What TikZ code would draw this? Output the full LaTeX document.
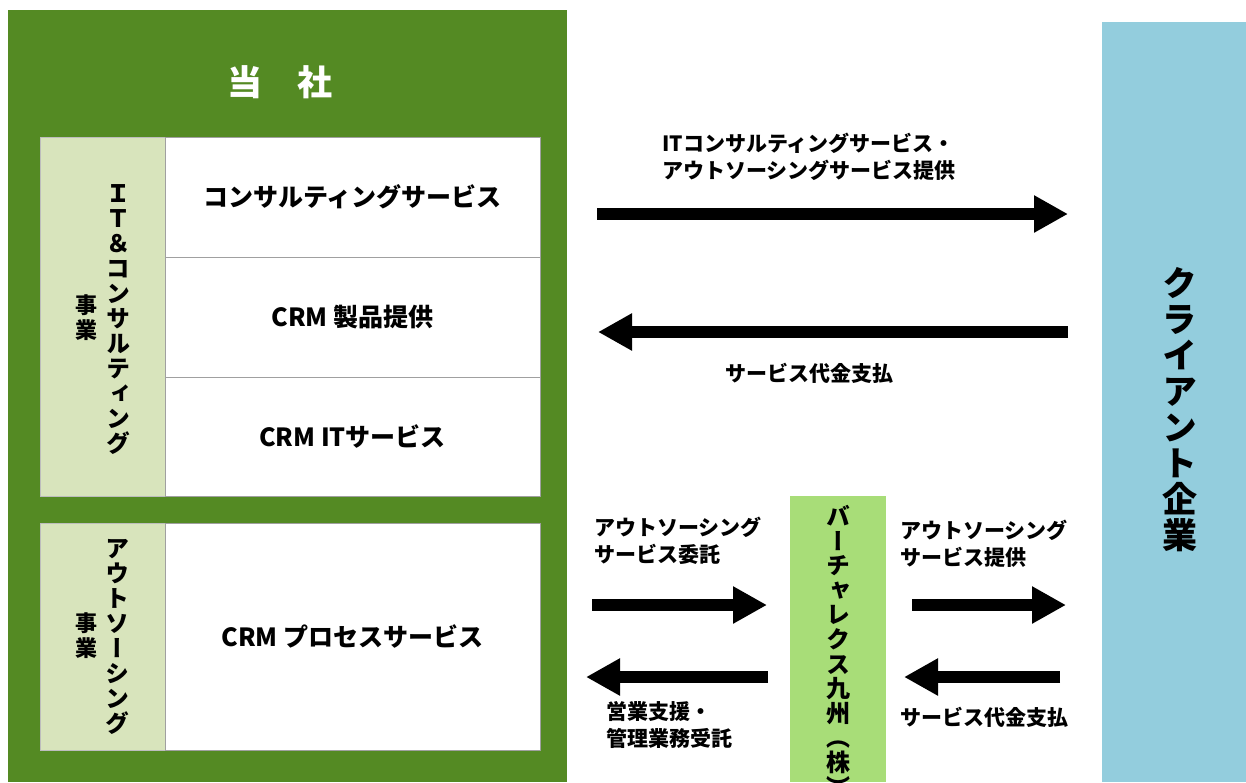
\documentclass[tikz,border=0pt]{standalone}
\usepackage{fontspec}
\usepackage{graphicx}
\usetikzlibrary{arrows.meta}
\setmainfont{Noto Sans CJK JP}
\newfontfamily\vjp{Noto Sans CJK JP}[RawFeature=+vert]
\definecolor{compgreen}{RGB}{84,138,35}
\definecolor{labgreen}{RGB}{216,228,188}
\definecolor{cellgray}{RGB}{160,160,160}
\definecolor{clientblue}{RGB}{147,205,221}
\definecolor{vxgreen}{RGB}{168,221,120}
\begin{document}
\begin{tikzpicture}[x=1pt,y=-1pt,
  box/.style={anchor=north west, inner sep=0pt, outer sep=0pt},
  cell/.style={box, draw=cellgray, line width=1pt, fill=white, font=\fontsize{25}{28}\selectfont\bfseries},
  lab/.style={box, draw=cellgray!70, line width=1pt, fill=labgreen},
  vt/.style={align=center, inner sep=0pt, font=\vjp\bfseries\fontsize{24}{25}\selectfont},
  flow/.style={line width=12.5pt, -{Triangle[length=34pt,width=35pt]}},
  note/.style={align=left, inner sep=0pt, anchor=west, font=\fontsize{21}{27.5}\selectfont\bfseries}
]
\useasboundingbox[fill=white] (0,0) rectangle (1246,782);

% company block
\node[box, fill=compgreen, minimum width=559pt, minimum height=772pt] (co) at (8,10) {};
\node[font=\fontsize{35}{40}\selectfont\bfseries, text=white] (title) at (280,82) {当　社};

% IT & consulting
\node[lab, minimum width=125pt, minimum height=359pt] (lab1) at (40,137) {};
\node[cell, minimum width=375pt, minimum height=120pt] (c1) at (165,137) {コンサルティングサービス};
\node[cell, minimum width=375pt, minimum height=120pt] (c2) at (165,257) {CRM 製品提供};
\node[cell, minimum width=375pt, minimum height=119pt] (c3) at (165,377) {CRM ITサービス};
\node[vt] (v1) at (118,320) {Ｉ\\Ｔ\\＆\\コ\\ン\\サ\\ル\\テ\\ィ\\ン\\グ};
\node[vt, font=\vjp\bfseries\fontsize{22}{25}\selectfont] (v1b) at (86,318) {事\\業};

% outsourcing
\node[lab, minimum width=125pt, minimum height=227pt] (lab2) at (40,523) {};
\node[cell, minimum width=375pt, minimum height=227pt] (c4) at (165,523) {CRM プロセスサービス};
\node[vt] (v2) at (117,637) {ア\\ウ\\ト\\ソ\\ー\\シ\\ン\\グ};
\node[vt, font=\vjp\bfseries\fontsize{22}{25}\selectfont] (v2b) at (86,636) {事\\業};

% client
\node[box, fill=clientblue, minimum width=144pt, minimum height=760pt] (cl) at (1102,22) {};
\node[vt, font=\vjp\bfseries\fontsize{35}{36}\selectfont] (clt) at (1180,410) {ク\\ラ\\イ\\ア\\ン\\ト\\企\\業};

% virtualex
\node[box, fill=vxgreen, minimum width=96pt, minimum height=286pt] (vx) at (790,496) {};
\node[vt, anchor=north, font=\vjp\bfseries\fontsize{24}{24.6}\selectfont] (vxt) at (838,505) {バ\\ー\\チ\\ャ\\レ\\ク\\ス\\九\\州\\（\\株\\）};

% arrows
\coordinate (a1s) at (597,214); \coordinate (a1e) at (1068,214);
\coordinate (a2s) at (1068,332); \coordinate (a2e) at (598,332);
\coordinate (a3s) at (592,605); \coordinate (a3e) at (767,605);
\coordinate (a4s) at (768,677); \coordinate (a4e) at (586,677);
\coordinate (a5s) at (912,605); \coordinate (a5e) at (1066,605);
\coordinate (a6s) at (1060,677); \coordinate (a6e) at (904,677);
\draw[flow] (a1s) -- (a1e);
\draw[flow] (a2s) -- (a2e);
\draw[flow] (a3s) -- (a3e);
\draw[flow] (a4s) -- (a4e);
\draw[flow] (a5s) -- (a5e);
\draw[flow] (a6s) -- (a6e);

% labels
\node[note] (t1) at (662,157) {ITコンサルティングサービス・\\アウトソーシングサービス提供};
\node[note] (t2) at (725,373) {サービス代金支払};
\node[note] (t3) at (594,541) {アウトソーシング\\サービス委託};
\node[note] (t4) at (900,544) {アウトソーシング\\サービス提供};
\node[note] (t5) at (606,725) {営業支援・\\管理業務受託};
\node[note] (t6) at (900,717) {サービス代金支払};
\end{tikzpicture}
\end{document}
